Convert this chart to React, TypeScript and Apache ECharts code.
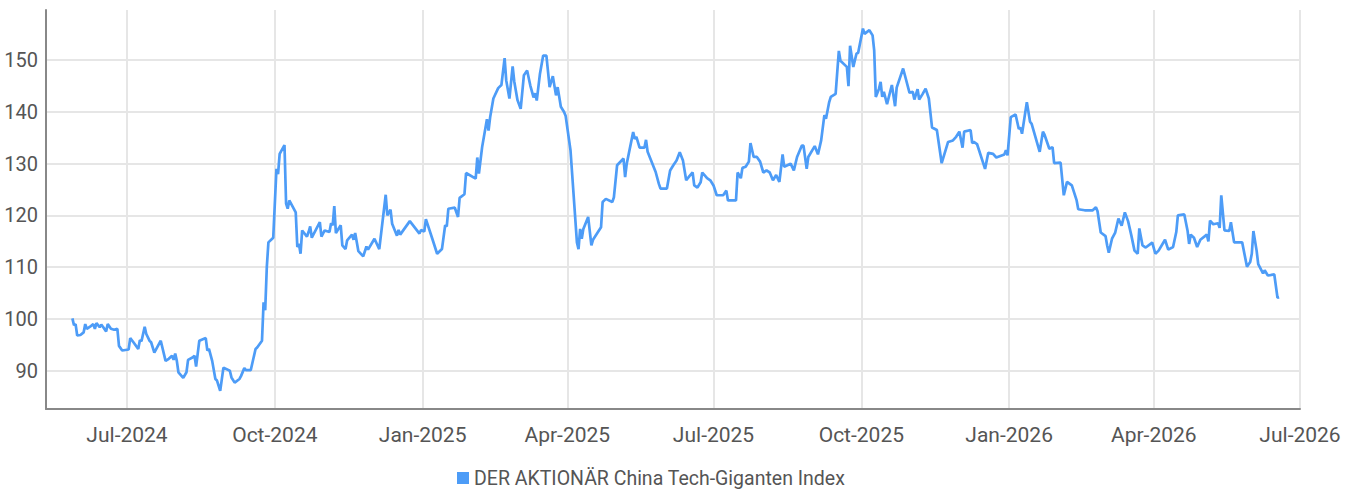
import React, { useEffect, useRef } from "react";
import * as echarts from "echarts";

const seriesName = "DER AKTIONÄR China Tech-Giganten Index";

const dates: string[] = [
  "2024-05-28","2024-05-29","2024-05-30","2024-05-31","2024-06-02","2024-06-04","2024-06-05","2024-06-06","2024-06-08","2024-06-10",
  "2024-06-11","2024-06-12","2024-06-14","2024-06-15","2024-06-16","2024-06-18","2024-06-19","2024-06-21","2024-06-23","2024-06-25",
  "2024-06-26","2024-06-28","2024-07-02","2024-07-03","2024-07-05","2024-07-08","2024-07-09","2024-07-10","2024-07-12","2024-07-13",
  "2024-07-15","2024-07-16","2024-07-18","2024-07-22","2024-07-25","2024-07-27","2024-07-29","2024-07-30","2024-07-31","2024-08-01",
  "2024-08-02","2024-08-05","2024-08-07","2024-08-08","2024-08-11","2024-08-12","2024-08-13","2024-08-15","2024-08-19","2024-08-20",
  "2024-08-21","2024-08-23","2024-08-25","2024-08-26","2024-08-28","2024-08-30","2024-09-03","2024-09-04","2024-09-06","2024-09-09",
  "2024-09-10","2024-09-12","2024-09-13","2024-09-16","2024-09-19","2024-09-20","2024-09-23","2024-09-24","2024-09-25","2024-09-26",
  "2024-09-27","2024-09-30","2024-10-02","2024-10-03","2024-10-04","2024-10-07","2024-10-08","2024-10-09","2024-10-10","2024-10-14",
  "2024-10-15","2024-10-16","2024-10-17","2024-10-18","2024-10-21","2024-10-22","2024-10-23","2024-10-24","2024-10-29","2024-10-30",
  "2024-11-01","2024-11-04","2024-11-05","2024-11-06","2024-11-07","2024-11-08","2024-11-11","2024-11-12","2024-11-14","2024-11-15",
  "2024-11-18","2024-11-19","2024-11-20","2024-11-22","2024-11-25","2024-11-27","2024-11-28","2024-12-02","2024-12-05","2024-12-09",
  "2024-12-10","2024-12-12","2024-12-13","2024-12-16","2024-12-17","2024-12-18","2024-12-24","2024-12-30","2024-12-31","2025-01-02",
  "2025-01-03","2025-01-07","2025-01-10","2025-01-13","2025-01-15","2025-01-16","2025-01-17","2025-01-21","2025-01-23","2025-01-24",
  "2025-01-27","2025-01-28","2025-02-03","2025-02-04","2025-02-05","2025-02-07","2025-02-10","2025-02-11","2025-02-12","2025-02-14",
  "2025-02-17","2025-02-19","2025-02-21","2025-02-22","2025-02-24","2025-02-26","2025-02-27","2025-03-01","2025-03-03","2025-03-05",
  "2025-03-07","2025-03-09","2025-03-11","2025-03-12","2025-03-13","2025-03-15","2025-03-17","2025-03-19","2025-03-21","2025-03-23",
  "2025-03-25","2025-03-26","2025-03-28","2025-03-30","2025-03-31","2025-04-03","2025-04-07","2025-04-08","2025-04-09","2025-04-10",
  "2025-04-11","2025-04-14","2025-04-16","2025-04-17","2025-04-22","2025-04-23","2025-04-25","2025-04-29","2025-04-30","2025-05-02",
  "2025-05-06","2025-05-07","2025-05-08","2025-05-12","2025-05-13","2025-05-14","2025-05-16","2025-05-19","2025-05-20","2025-05-21",
  "2025-05-26","2025-05-28","2025-05-29","2025-05-30","2025-06-02","2025-06-04","2025-06-06","2025-06-08","2025-06-10","2025-06-12",
  "2025-06-14","2025-06-16","2025-06-18","2025-06-19","2025-06-21","2025-06-23","2025-06-24","2025-06-27","2025-06-29","2025-07-01",
  "2025-07-03","2025-07-05","2025-07-07","2025-07-09","2025-07-10","2025-07-12","2025-07-15","2025-07-16","2025-07-18","2025-07-19",
  "2025-07-21","2025-07-23","2025-07-24","2025-07-26","2025-07-28","2025-07-30","2025-08-01","2025-08-03","2025-08-05","2025-08-07",
  "2025-08-09","2025-08-11","2025-08-13","2025-08-14","2025-08-18","2025-08-20","2025-08-22","2025-08-25","2025-08-26","2025-08-28",
  "2025-08-29","2025-09-02","2025-09-04","2025-09-06","2025-09-08","2025-09-09","2025-09-11","2025-09-12","2025-09-15","2025-09-17",
  "2025-09-18","2025-09-21","2025-09-22","2025-09-23","2025-09-24","2025-09-26","2025-09-28","2025-09-29","2025-10-02","2025-10-03",
  "2025-10-06","2025-10-08","2025-10-09","2025-10-10","2025-10-12","2025-10-13","2025-10-14","2025-10-15","2025-10-17","2025-10-20",
  "2025-10-22","2025-10-23","2025-10-27","2025-10-31","2025-11-02","2025-11-03","2025-11-05","2025-11-06","2025-11-08","2025-11-10",
  "2025-11-12","2025-11-14","2025-11-17","2025-11-20","2025-11-24","2025-11-27","2025-11-29","2025-12-01","2025-12-03","2025-12-04",
  "2025-12-08","2025-12-09","2025-12-10","2025-12-12","2025-12-17","2025-12-19","2025-12-22","2025-12-24","2025-12-29","2025-12-30",
  "2025-12-31","2026-01-02","2026-01-05","2026-01-07","2026-01-08","2026-01-09","2026-01-12","2026-01-14","2026-01-15","2026-01-20",
  "2026-01-22","2026-01-23","2026-01-26","2026-01-28","2026-01-29","2026-02-02","2026-02-04","2026-02-06","2026-02-09","2026-02-12",
  "2026-02-13","2026-02-17","2026-02-20","2026-02-22","2026-02-24","2026-02-25","2026-02-27","2026-03-02","2026-03-03","2026-03-04",
  "2026-03-06","2026-03-08","2026-03-10","2026-03-12","2026-03-14","2026-03-16","2026-03-18","2026-03-20","2026-03-22","2026-03-23",
  "2026-03-25","2026-03-27","2026-03-30","2026-03-31","2026-04-02","2026-04-04","2026-04-08","2026-04-10","2026-04-13","2026-04-15",
  "2026-04-16","2026-04-20","2026-04-22","2026-04-23","2026-04-24","2026-04-26","2026-04-28","2026-04-30","2026-05-04","2026-05-05",
  "2026-05-06","2026-05-08","2026-05-11","2026-05-12","2026-05-13","2026-05-15","2026-05-18","2026-05-19","2026-05-21","2026-05-25",
  "2026-05-26","2026-05-29","2026-05-31","2026-06-01","2026-06-02","2026-06-04","2026-06-05","2026-06-08","2026-06-09","2026-06-11",
  "2026-06-15","2026-06-17","2026-06-18"
];

const values: number[] = [
  100.1,98.8,99.0,96.8,96.9,97.4,99.0,98.1,98.5,99.0,
  98.1,99.2,98.4,98.9,98.5,97.6,99.0,98.1,97.9,98.1,
  94.8,93.9,94.1,96.3,95.5,94.2,95.9,95.7,98.5,97.1,
  95.8,95.5,93.5,95.8,91.9,92.3,92.9,92.1,93.3,91.9,
  89.7,88.6,89.7,92.1,92.6,92.9,90.8,95.8,96.3,93.9,
  94.2,91.9,88.4,88.1,86.1,90.6,90.0,88.7,87.7,88.4,
  89.0,90.5,90.1,90.1,94.2,94.5,95.8,103.2,101.7,110.0,
  114.8,115.7,129.0,128.0,131.9,133.6,122.3,121.3,122.9,120.6,
  113.9,114.5,112.6,117.1,115.9,116.8,117.9,115.7,118.7,115.9,
  117.1,116.8,118.5,118.1,121.8,116.6,118.1,114.2,113.5,115.2,
  116.3,115.3,116.6,113.1,112.1,114.0,113.4,115.5,113.5,124.0,
  120.0,121.1,118.4,116.1,117.2,116.3,118.9,116.5,117.2,116.9,
  119.3,115.5,112.6,113.5,118.1,117.9,121.3,121.5,119.7,123.4,
  124.1,128.2,127.1,131.2,128.1,133.2,138.6,136.4,139.0,142.6,
  144.6,145.2,150.4,146.1,142.6,148.8,145.9,142.3,140.6,147.1,
  148.0,145.1,142.8,143.6,142.2,147.4,150.9,150.9,144.8,146.9,
  143.2,144.8,141.0,140.0,139.2,132.6,114.8,113.5,117.4,115.5,
  117.4,119.7,114.2,115.3,117.7,122.6,123.2,122.6,123.5,129.7,
  131.0,127.4,130.0,136.1,134.8,135.2,133.1,133.1,134.6,132.3,
  128.4,126.1,125.2,125.2,125.2,128.7,129.7,130.6,132.2,130.6,
  126.8,127.6,128.3,125.8,125.4,126.4,128.3,127.2,126.8,125.8,
  123.9,123.9,123.9,124.8,122.9,122.9,122.9,128.3,127.2,129.2,
  129.4,130.4,134.0,131.3,131.3,130.4,128.3,128.7,128.3,126.8,
  127.8,126.5,131.8,129.4,130.0,128.7,131.3,133.5,133.5,129.0,
  131.3,133.4,131.8,134.5,139.4,138.7,141.9,142.9,143.5,151.8,
  149.9,149.0,148.7,145.0,152.8,148.7,151.3,151.4,156.1,155.1,
  155.8,154.8,151.9,142.9,144.5,145.8,142.9,143.9,141.5,145.2,
  141.1,144.7,148.4,143.7,143.9,142.4,144.4,142.4,143.4,144.5,
  142.6,137.0,136.5,130.1,134.2,134.5,135.2,136.2,133.1,136.2,
  136.5,134.0,134.2,133.8,129.0,132.1,131.9,131.2,131.8,132.6,
  131.6,139.0,139.5,136.7,137.0,135.8,141.9,138.1,137.7,132.3,
  136.2,135.6,132.9,133.2,130.1,130.2,123.9,126.5,125.8,122.9,
  121.2,121.0,121.0,121.0,121.6,120.8,116.7,116.0,114.2,112.8,
  115.5,116.7,119.4,118.0,120.6,118.9,116.2,113.2,112.6,117.5,
  114.2,113.8,114.5,114.8,112.6,113.2,115.3,113.4,113.9,116.8,
  120.0,120.2,117.1,114.5,116.3,115.7,113.9,115.3,116.3,115.0,
  119.0,118.3,118.5,117.6,123.9,117.1,117.0,118.7,114.8,114.8,
  114.8,110.1,111.0,112.6,117.0,113.2,110.6,108.8,109.4,108.4,
  108.6,104.1,104.2
];

const yTicks: number[] = [90, 100, 110, 120, 130, 140, 150];
const xTickDates: string[] = [
  "2024-07-01","2024-10-01","2025-01-01","2025-04-01","2025-07-01",
  "2025-10-01","2026-01-01","2026-04-01","2026-07-01"
];
const monthNames: string[] = ["Jan","Feb","Mar","Apr","May","Jun","Jul","Aug","Sep","Oct","Nov","Dec"];

const FONT = "Roboto, sans-serif";

function toTs(s: string): number {
  const [y, m, d] = s.split("-").map(Number);
  return new Date(y, m - 1, d).getTime();
}

export default function App() {
  const ref = useRef<HTMLDivElement>(null);
  useEffect(() => {
    if (!ref.current) return;
    const chart = echarts.init(ref.current, null, { renderer: "svg" });
    const xTicks = xTickDates.map(toTs);
    const data = dates.map((d, i) => [toTs(d), values[i]]);
    chart.setOption({
      animation: false,
      grid: { left: 46, right: 58, top: 10, bottom: 83, containLabel: false },
      legend: {
        data: [seriesName],
        left: 452,
        top: 463,
        icon: "rect",
        itemWidth: 12,
        itemHeight: 12,
        itemGap: 10,
        padding: 5,
        textStyle: { fontFamily: FONT, fontSize: 19.5, color: "#555" },
      },
      xAxis: {
        type: "value",
        min: new Date(2024, 4, 11, 14).getTime(),
        max: toTs("2026-07-01"),
        axisLine: { show: true, onZero: false, lineStyle: { color: "#888", width: 2 } },
        axisTick: { show: false, customValues: xTicks },
        axisLabel: {
          customValues: xTicks,
          fontFamily: FONT,
          fontSize: 21,
          color: "#555",
          margin: 15,
          formatter: (v: number) => {
            const d = new Date(v);
            return monthNames[d.getMonth()] + "-" + d.getFullYear();
          },
        },
        splitLine: { show: true, lineStyle: { color: "#e6e6e6", width: 2 } },
      },
      yAxis: {
        type: "value",
        min: 82.6,
        max: 159.7,
        axisLine: { show: true, lineStyle: { color: "#888", width: 2 } },
        axisTick: { show: false, customValues: yTicks },
        axisLabel: {
          customValues: yTicks,
          fontFamily: FONT,
          fontSize: 20,
          color: "#555",
          margin: 8,
        },
        splitLine: { show: true, lineStyle: { color: "#e6e6e6", width: 2 } },
      },
      series: [
        {
          name: seriesName,
          type: "line",
          data,
          showSymbol: false,
          symbol: "none",
          lineStyle: { color: "#4d9cf7", width: 2.7 },
          itemStyle: { color: "#4d9cf7" },
        },
      ],
    });
    return () => chart.dispose();
  }, []);
  return (
    <div
      ref={ref}
      style={{ position: "absolute", left: 0, top: 0, width: 1358, height: 492, background: "#fff" }}
    />
  );
}
